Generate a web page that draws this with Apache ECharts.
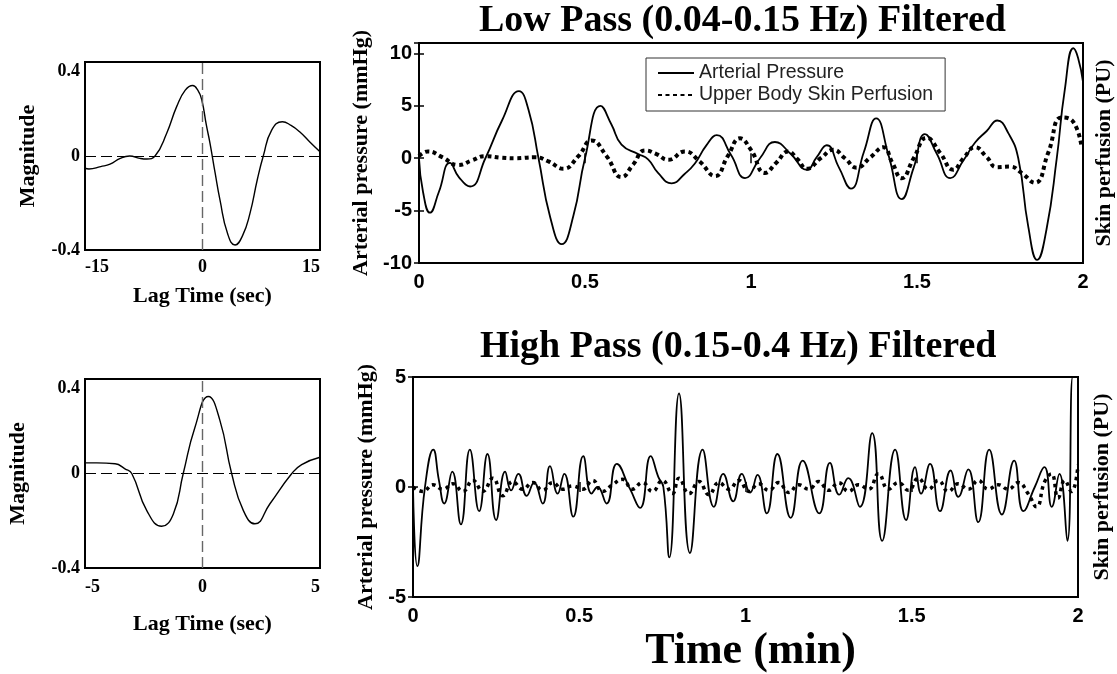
<!DOCTYPE html>
<html>
<head>
<meta charset="utf-8">
<script src="https://cdn.jsdelivr.net/npm/echarts@6/dist/echarts.min.js"></script>
<style>
html,body{margin:0;padding:0;background:#fff;}
#chart{width:1117px;height:674px;}
</style>
</head>
<body>
<div id="chart"></div>
<script>
// ---------- DATA ----------
const titleLow = 'Low Pass (0.04-0.15 Hz) Filtered';
const titleHigh = 'High Pass (0.15-0.4 Hz) Filtered';
const seriesNames = ['Arterial Pressure', 'Upper Body Skin Perfusion'];

// cross-correlation, low pass (lag sec, magnitude)
const ccfLow = [[-15,-0.052],[-14.5,-0.055],[-13,-0.045],[-11.8,-0.035],[-10.5,-0.01],[-9.3,0.0],[-8,-0.01],[-7.1,-0.013],[-6.06,0.0],[-4.57,0.097],[-3.3,0.21],[-2.2,0.28],[-1.25,0.30],[-0.6,0.28],[-0.1,0.24],[0.5,0.13],[0.96,0.054],[1.6,-0.07],[2.23,-0.187],[3.2,-0.33],[4.15,-0.379],[5.1,-0.34],[6.06,-0.244],[7,-0.1],[7.76,0],[8.83,0.11],[10.2,0.146],[11.3,0.13],[12.4,0.103],[13.7,0.06],[15,0.018]];

// cross-correlation, high pass
const ccfHigh = [[-5,0.045],[-4.5,0.045],[-3.72,0.041],[-3.3,0.02],[-3.01,0],[-2.37,-0.157],[-1.74,-0.223],[-1.24,-0.171],[-0.82,0],[-0.32,0.196],[0.25,0.326],[0.74,0.225],[1.24,0],[1.74,-0.157],[2.23,-0.213],[2.87,-0.128],[3.8,0],[4.22,0.038],[5,0.069]];

// low pass filtered signals (time min, value)
const lpPressure = [[0,0],[0.012,-3.2],[0.033,-5.2],[0.06,-3.2],[0.093,-0.45],[0.12,-1.8],[0.154,-2.7],[0.2,0],[0.25,3.6],[0.301,6.4],[0.33,4.6],[0.36,0],[0.395,-5.6],[0.43,-8.2],[0.465,-5.5],[0.5,0],[0.547,5.0],[0.58,3.2],[0.61,1.3],[0.66,0.4],[0.69,-0.1],[0.72,-1.4],[0.761,-2.4],[0.8,-1.5],[0.831,-0.5],[0.865,1.2],[0.897,2.2],[0.94,0.3],[0.982,-1.9],[1.027,0],[1.072,1.55],[1.12,0.4],[1.168,-1.1],[1.198,0.1],[1.228,1.24],[1.265,-0.9],[1.301,-2.9],[1.34,0.6],[1.377,3.8],[1.415,0.2],[1.454,-3.9],[1.49,-0.9],[1.524,2.3],[1.56,0.4],[1.6,-1.9],[1.64,-0.2],[1.675,1.5],[1.71,2.6],[1.742,3.6],[1.775,2.4],[1.805,0],[1.835,-6.5],[1.862,-9.7],[1.89,-6.8],[1.921,0],[1.945,6.5],[1.971,10.5],[1.985,9.6],[2.0,7.3]];

const lpPerfusion = [[0,0.2],[0.027,0.65],[0.07,0.1],[0.118,-0.65],[0.16,-0.2],[0.199,0.2],[0.25,0.05],[0.29,0],[0.349,0.1],[0.39,-0.3],[0.435,-1.0],[0.48,0.2],[0.52,1.7],[0.565,0.2],[0.61,-1.8],[0.645,-0.6],[0.681,0.75],[0.715,0.4],[0.751,-0.15],[0.801,0.65],[0.845,-0.3],[0.892,-1.7],[0.93,0.2],[0.967,1.9],[1.0,0.8],[1.042,-1.4],[1.077,-0.4],[1.112,0.65],[1.14,-0.1],[1.168,-1.0],[1.21,0],[1.248,0.8],[1.283,0],[1.318,-0.9],[1.36,0.1],[1.399,1.05],[1.425,-0.4],[1.454,-1.9],[1.49,0],[1.529,1.95],[1.57,0.5],[1.609,-1.1],[1.64,0],[1.675,1.05],[1.71,0.1],[1.74,-0.85],[1.78,-0.8],[1.815,-1.4],[1.855,-2.35],[1.895,0.5],[1.936,3.9],[1.97,3.5],[1.996,1.0]];

// high pass filtered signals
const hpPressure = [[0,0],[0.013,-3.6],[0.036,0],[0.061,1.7],[0.078,0.3],[0.094,-0.75],[0.118,0.7],[0.144,-1.7],[0.171,1.7],[0.199,-1.1],[0.224,1.5],[0.25,-1.5],[0.277,0.7],[0.295,-0.15],[0.317,0.6],[0.342,-0.4],[0.364,0.2],[0.39,-0.75],[0.412,0.95],[0.435,-0.3],[0.455,0.6],[0.482,-1.35],[0.512,1.4],[0.537,-0.3],[0.555,0],[0.582,-0.75],[0.613,1.05],[0.653,-0.1],[0.683,-0.95],[0.715,1.4],[0.738,0.45],[0.753,0],[0.771,-3.2],[0.8,4.25],[0.833,-3.0],[0.871,1.7],[0.905,-0.9],[0.933,0.6],[0.963,-0.65],[0.989,0.6],[1.014,-0.25],[1.036,0.55],[1.064,-1.2],[1.096,1.5],[1.136,-1.4],[1.172,1.2],[1.222,-1.2],[1.254,1.1],[1.282,-0.35],[1.309,0.4],[1.344,-0.9],[1.381,2.45],[1.411,-2.45],[1.45,1.7],[1.483,-1.5],[1.51,0.9],[1.528,-0.3],[1.555,1.05],[1.585,-1.1],[1.617,0.75],[1.64,-0.45],[1.67,0.8],[1.7,-1.6],[1.733,1.7],[1.771,-1.25],[1.808,1.2],[1.836,-1.1],[1.87,0],[1.899,0.9],[1.921,-0.9],[1.944,0.6],[1.968,-2.45],[1.984,5],[1.99,5],[2.0,5]];

const hpPerfusion = [[0,0],[0.03,-0.2],[0.06,0.1],[0.09,-0.1],[0.12,0.15],[0.15,-0.2],[0.18,0.3],[0.21,-0.2],[0.24,0.4],[0.27,-0.4],[0.30,0.25],[0.33,-0.1],[0.36,0.2],[0.39,-0.15],[0.42,0.2],[0.45,-0.1],[0.48,0.05],[0.51,-0.1],[0.54,0.3],[0.57,-0.2],[0.60,0.1],[0.63,0.35],[0.66,-0.1],[0.69,0.2],[0.72,-0.2],[0.75,0.3],[0.78,-0.3],[0.80,0.4],[0.83,-0.3],[0.86,0.25],[0.89,-0.35],[0.92,0.2],[0.95,-0.1],[0.98,0.3],[1.01,-0.2],[1.04,0.15],[1.07,-0.15],[1.10,0.2],[1.13,-0.25],[1.16,0.1],[1.19,-0.1],[1.22,0.25],[1.25,-0.15],[1.28,0.2],[1.31,-0.2],[1.34,0.1],[1.37,-0.1],[1.40,0.6],[1.43,-0.1],[1.46,0.2],[1.49,-0.15],[1.52,0.4],[1.55,-0.1],[1.58,0.3],[1.61,-0.2],[1.64,0.15],[1.67,-0.1],[1.70,0.3],[1.73,-0.1],[1.76,0.1],[1.79,-0.1],[1.82,0.2],[1.85,-0.3],[1.875,-0.9],[1.90,0.25],[1.92,0.6],[1.94,-0.5],[1.96,0.3],[1.98,-0.2],[2.0,1.0]];

// ---------- CHART ----------
const serif = 'Liberation Serif, Times New Roman, serif';
const sans = 'Liberation Sans, Arial, sans-serif';
const chart = echarts.init(document.getElementById('chart'), null, {renderer:'canvas'});

const grids = [
  {left:85, top:62, width:235, height:188},
  {left:419, top:43, width:664, height:220},
  {left:85, top:379, width:235, height:189},
  {left:413, top:377, width:665, height:220}
].map(g => Object.assign(g, {show:true, borderColor:'#000', borderWidth:2, backgroundColor:'transparent', containLabel:false, outerBoundsMode:'none'}));

const leftLabel = {fontFamily:serif, fontWeight:'bold', fontSize:18, color:'#000'};
const rightLabel = {fontFamily:sans, fontWeight:'bold', fontSize:20, color:'#000'};
const nameStyle = {fontFamily:serif, fontWeight:'bold', fontSize:22, color:'#000'};
const tickIn = {show:true, inside:true, length:5, lineStyle:{color:'#000', width:1.5}};
const noLine = {show:false};

function fmt(v){ return (Math.abs(v % 0.5) < 1e-9) ? String(v) : ''; }
function fmt5(v){ return (v % 5 === 0) ? String(v) : ''; }

const xAxes = [
  {gridIndex:0, type:'value', min:-15, max:15, interval:15, axisLine:noLine, axisTick:{show:false}, splitLine:{show:false},
   axisLabel:Object.assign({margin:8, alignMinLabel:'left', alignMaxLabel:'right'}, leftLabel),
   name:'Lag Time (sec)', nameLocation:'middle', nameGap:35, nameTextStyle:nameStyle},
  {gridIndex:1, type:'value', min:0, max:2, interval:0.5, axisLine:noLine, axisTick:tickIn, splitLine:{show:false},
   axisLabel:Object.assign({margin:9, formatter:fmt}, rightLabel)},
  {gridIndex:2, type:'value', min:-5, max:5, interval:5, axisLine:noLine, axisTick:{show:false}, splitLine:{show:false},
   axisLabel:Object.assign({margin:10, alignMinLabel:'left', alignMaxLabel:'right'}, leftLabel),
   name:'Lag Time (sec)', nameLocation:'middle', nameGap:45, nameTextStyle:nameStyle},
  {gridIndex:3, type:'value', min:0, max:2, interval:0.5, axisLine:noLine, axisTick:tickIn, splitLine:{show:false},
   axisLabel:Object.assign({margin:9, formatter:fmt}, rightLabel),
   name:'Time (min)', nameLocation:'middle', nameGap:33,
   nameTextStyle:{fontFamily:serif, fontWeight:'bold', fontSize:44, color:'#000', padding:[0,0,0,10]}},
  // top tick axes
  {gridIndex:1, type:'value', position:'top', min:0, max:2, interval:0.5, axisLine:noLine, axisTick:tickIn, axisLabel:{show:false}, splitLine:{show:false}},
  {gridIndex:3, type:'value', position:'top', min:0, max:2, interval:0.5, axisLine:noLine, axisTick:tickIn, axisLabel:{show:false}, splitLine:{show:false}}
];

const yAxes = [
  {gridIndex:0, type:'value', min:-0.4, max:0.4, interval:0.4, axisLine:noLine, axisTick:{show:false}, splitLine:{show:false},
   axisLabel:Object.assign({margin:5, verticalAlignMaxLabel:'top'}, leftLabel),
   name:'Magnitude', nameLocation:'middle', nameRotate:90, nameGap:46, nameTextStyle:nameStyle},
  {gridIndex:1, type:'value', min:-10, max:11, interval:5, axisLine:noLine, axisTick:tickIn, splitLine:{show:false},
   axisLabel:Object.assign({margin:7, formatter:fmt5}, rightLabel),
   name:'Arterial pressure (mmHg)', nameLocation:'middle', nameRotate:90, nameGap:40, nameTextStyle:nameStyle},
  {gridIndex:2, type:'value', min:-0.4, max:0.4, interval:0.4, axisLine:noLine, axisTick:{show:false}, splitLine:{show:false},
   axisLabel:Object.assign({margin:5, verticalAlignMaxLabel:'top'}, leftLabel),
   name:'Magnitude', nameLocation:'middle', nameRotate:90, nameGap:56, nameTextStyle:nameStyle},
  {gridIndex:3, type:'value', min:-5, max:5, interval:5, axisLine:noLine, axisTick:tickIn, splitLine:{show:false},
   axisLabel:Object.assign({margin:7}, rightLabel),
   name:'Arterial pressure (mmHg)', nameLocation:'middle', nameRotate:90, nameGap:33, nameTextStyle:nameStyle},
  // right perfusion axes
  {gridIndex:1, type:'value', position:'right', min:-10, max:11, interval:5, axisLine:noLine, axisTick:tickIn, axisLabel:{show:false}, splitLine:{show:false},
   name:'Skin perfusion (PU)', nameLocation:'middle', nameRotate:90, nameGap:10, nameTextStyle:nameStyle},
  {gridIndex:3, type:'value', position:'right', min:-5, max:5, interval:5, axisLine:noLine, axisTick:tickIn, axisLabel:{show:false}, splitLine:{show:false},
   name:'Skin perfusion (PU)', nameLocation:'middle', nameRotate:90, nameGap:13, nameTextStyle:nameStyle}
];

function zeroLines(){
  return {
    silent:true, symbol:['none','none'], label:{show:false}, animation:false,
    data:[
      {xAxis:0, lineStyle:{color:'#666', type:[11,5], width:1.4}},
      {yAxis:0, lineStyle:{color:'#000', type:[11,5], width:1.2}}
    ]
  };
}

const solid = {color:'#000', width:1.8, type:'solid'};
const dotted = {color:'#000', width:4, type:[4,3.5]};

const series = [
  {type:'line', xAxisIndex:0, yAxisIndex:0, data:ccfLow, smooth:0.5, showSymbol:false, symbol:'none',
   lineStyle:{color:'#000', width:1.4}, markLine:zeroLines()},
  {type:'line', xAxisIndex:2, yAxisIndex:2, data:ccfHigh, smooth:0.5, showSymbol:false, symbol:'none',
   lineStyle:{color:'#000', width:1.4}, markLine:zeroLines()},
  {name:seriesNames[0], type:'line', xAxisIndex:1, yAxisIndex:1, data:lpPressure, smooth:0.5, symbol:'none', lineStyle:solid, itemStyle:{color:'#000'}},
  {name:seriesNames[1], type:'line', xAxisIndex:1, yAxisIndex:4, data:lpPerfusion, smooth:0.5, symbol:'none', lineStyle:dotted, itemStyle:{color:'#000'}},
  {name:seriesNames[0], type:'line', xAxisIndex:3, yAxisIndex:3, data:hpPressure, smooth:0.5, symbol:'none', lineStyle:solid, itemStyle:{color:'#000'}},
  {name:seriesNames[1], type:'line', xAxisIndex:3, yAxisIndex:5, data:hpPerfusion, smooth:0.5, symbol:'none', lineStyle:{color:'#000', width:3.5, type:[3.5,4]}, itemStyle:{color:'#000'}}
];
series.forEach(s => { s.emphasis = {disabled:true}; s.animation = false; });

chart.setOption({
  backgroundColor:'#fff',
  animation:false,
  title:[
    {text:titleLow, left:479, top:2, padding:0, textStyle:{fontFamily:serif, fontWeight:'bold', fontSize:38, color:'#000'}},
    {text:titleHigh, left:480, top:328, padding:0, textStyle:{fontFamily:serif, fontWeight:'bold', fontSize:38, color:'#000'}}
  ],
  legend:{
    data:seriesNames, orient:'vertical', left:646, top:58, padding:[5,12,6,11],
    borderColor:'#333', borderWidth:1, backgroundColor:'#fff', borderRadius:0,
    itemWidth:36, itemHeight:14, itemGap:2, selectedMode:false,
    itemStyle:{opacity:0, borderWidth:0},
    textStyle:{fontFamily:sans, fontSize:19.5, color:'#222', lineHeight:18}
  },
  grid:grids,
  xAxis:xAxes,
  yAxis:yAxes,
  series:series
});
</script>
</body>
</html>
